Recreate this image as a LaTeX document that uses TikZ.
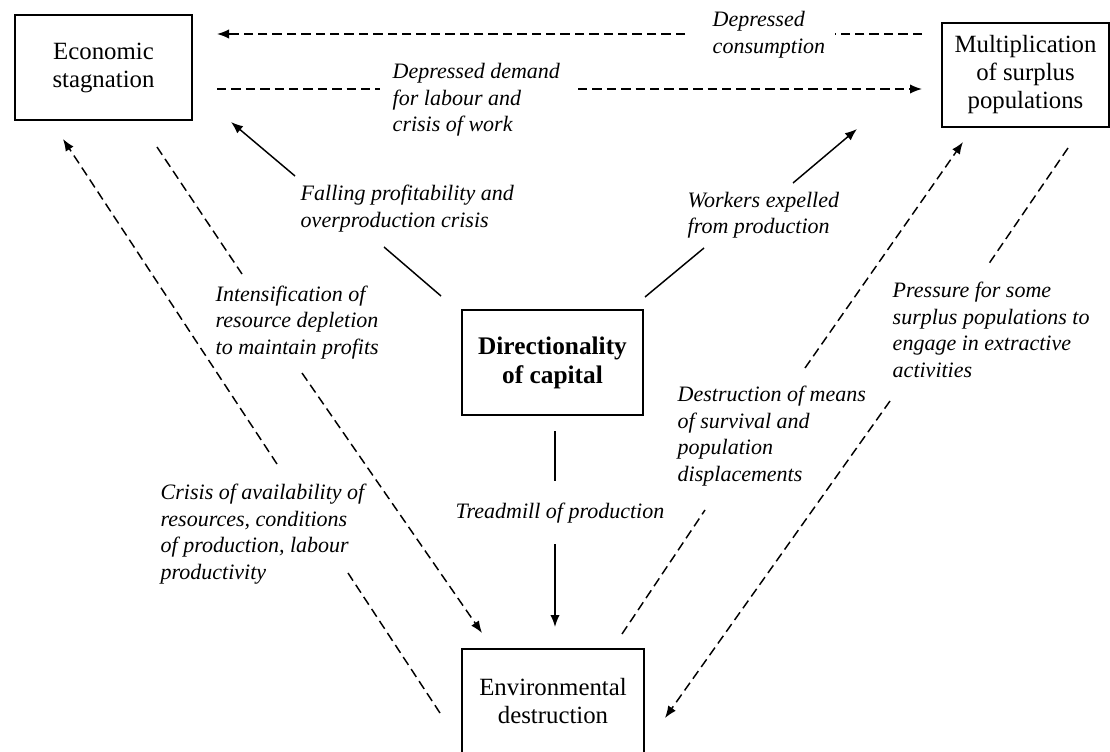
\documentclass[tikz,border=0pt]{standalone}
\usepackage{fontspec}
\setmainfont{Liberation Serif}
\usetikzlibrary{arrows.meta}

\tikzset{every picture/.style={line width=1.1pt}}
\tikzset{
  box/.style={draw, line width=1.2pt, align=center, inner sep=0pt,
    font=\fontsize{18.6}{21}\selectfont},
  lbl/.style={anchor=west, align=left, inner sep=0pt,
    font=\fontsize{16.5}{19.9}\selectfont\itshape},
  dashln/.style={dash pattern=on 7pt off 3.8pt},
  tip/.style={-{Latex[length=9pt,width=7pt]}},
}

\begin{document}
\begin{tikzpicture}[x=0.75pt,y=0.75pt,yscale=-1,xscale=1]
%set diagram left start at 0, and has height of 752
\useasboundingbox (0,0) rectangle (1110,752);

%Shape: Rectangle [id:eco]
\node[box, minimum width=132.75pt, minimum height=78.75pt] (eco) at (103.5,67.5) {Economic\\stagnation};
%Shape: Rectangle [id:mult]
\node[box, minimum width=125.25pt, minimum height=78pt] (mult) at (1025.5,75) {Multiplication\\of surplus\\populations};
%Shape: Rectangle [id:dir]
\node[box, minimum width=135.75pt, minimum height=78.75pt, font=\fontsize{19}{21.75}\selectfont\bfseries] (dir) at (552.5,362.5) {Directionality\\of capital};
%Shape: Rectangle [id:env]
\node[box, minimum width=136.5pt, minimum height=78.75pt] (env) at (553,701.5) {Environmental\\destruction};

% Text Node
\node[lbl] (consump) at (712,34.5) {Depressed\\consumption};
% Text Node
\node[lbl] (demand) at (392,100) {Depressed demand\\for labour and\\crisis of work};
% Text Node
\node[lbl] (falling) at (300,208.5) {Falling profitability and\\overproduction crisis};
% Text Node
\node[lbl] (workers) at (687,215) {Workers expelled\\from production};
% Text Node
\node[lbl] (intens) at (215,322.5) {Intensification of\\resource depletion\\to maintain profits};
% Text Node
\node[lbl] (crisis) at (160,534) {Crisis of availability of\\resources, conditions\\of production, labour\\productivity};
% Text Node
\node[lbl, anchor=center] (tread) at (560,513) {Treadmill of production};
% Text Node
\node[lbl] (destr) at (677,436) {Destruction of means\\of survival and\\population\\displacements};
% Text Node
\node[lbl] (press) at (892,330) {Pressure for some\\surplus populations to\\engage in extractive\\activities};

% connector ends
\coordinate (cs1) at (922,34);  \coordinate (cs2) at (835,34);
\coordinate (cs3) at (685,34);  \coordinate (cs4) at (217,34);
\coordinate (dm1) at (217,89);  \coordinate (dm2) at (380,89);
\coordinate (dm3) at (578,89);  \coordinate (dm4) at (922,89);
\coordinate (fp1) at (441,296); \coordinate (fp2) at (384,247);
\coordinate (fp3) at (295,176); \coordinate (fp4) at (231,122);
\coordinate (we1) at (645,297); \coordinate (we2) at (704,248);
\coordinate (we3) at (793,183); \coordinate (we4) at (857,129);
\coordinate (tr1) at (555,431); \coordinate (tr2) at (555,481);
\coordinate (tr3) at (555,544); \coordinate (tr4) at (555,627);
\coordinate (in1) at (157,147); \coordinate (in2) at (242,274);
\coordinate (in3) at (302,373); \coordinate (in4) at (482,633);
\coordinate (cr1) at (440,713); \coordinate (cr2) at (348,573);
\coordinate (cr3) at (277,464); \coordinate (cr4) at (63,139);
\coordinate (ds1) at (622,634); \coordinate (ds2) at (705,510);
\coordinate (ds3) at (805,368); \coordinate (ds4) at (963,142);
\coordinate (pr1) at (1068,148); \coordinate (pr2) at (988,265);
\coordinate (pr3) at (890,401); \coordinate (pr4) at (665,718);

%Straight Lines: depressed consumption
\draw[dashln] (cs1) -- (cs2);
\draw[dashln, tip] (cs3) -- (cs4);
%Straight Lines: depressed demand
\draw[dashln] (dm1) -- (dm2);
\draw[dashln, tip] (dm3) -- (dm4);
%Straight Lines: falling profitability
\draw (fp1) -- (fp2);
\draw[tip] (fp3) -- (fp4);
%Straight Lines: workers expelled
\draw (we1) -- (we2);
\draw[tip] (we3) -- (we4);
%Straight Lines: treadmill
\draw (tr1) -- (tr2);
\draw[tip] (tr3) -- (tr4);
%Straight Lines: intensification
\draw[dashln] (in1) -- (in2);
\draw[dashln, tip] (in3) -- (in4);
%Straight Lines: crisis of availability
\draw[dashln] (cr1) -- (cr2);
\draw[dashln, tip] (cr3) -- (cr4);
%Straight Lines: destruction of means
\draw[dashln] (ds1) -- (ds2);
\draw[dashln, tip] (ds3) -- (ds4);
%Straight Lines: pressure
\draw[dashln] (pr1) -- (pr2);
\draw[dashln, tip] (pr3) -- (pr4);

\end{tikzpicture}
\end{document}
